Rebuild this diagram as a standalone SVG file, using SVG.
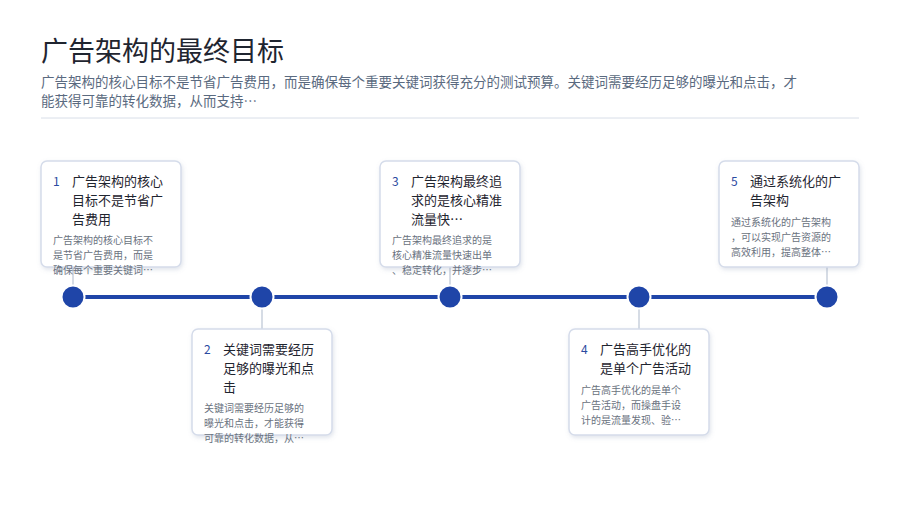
<svg xmlns="http://www.w3.org/2000/svg" width="900" height="506" viewBox="0 0 900 506">
<defs>
<filter id="sh" x="-10%" y="-10%" width="130%" height="130%"><feDropShadow dx="1" dy="2" stdDeviation="2" flood-color="#8090b0" flood-opacity="0.25"/></filter>
<style>
text{font-family:"Noto Sans CJK SC","Noto Sans",sans-serif}
.card{fill:#fff;stroke:#d5dcea;stroke-width:1.5;filter:url(#sh)}
.num{font-size:12px;fill:#2a4aa0}
.tt{font-size:13px;fill:#1f2530}
.ds{font-size:10px;fill:#6a7280}
.dot{fill:#1f45a8}
.stem{stroke:#c9d0dc;stroke-width:1.5}
</style>
</defs>
<rect width="900" height="506" fill="#fff"/>
<text x="41" y="61" font-size="27" fill="#1f2530">广告架构的最终目标</text>
<text x="41" y="87" font-size="13.5" fill="#5a6a80">广告架构的核心目标不是节省广告费用，而是确保每个重要关键词获得充分的测试预算。关键词需要经历足够的曝光和点击，才</text>
<text x="41" y="106" font-size="13.5" fill="#5a6a80">能获得可靠的转化数据，从而支持…</text>
<line x1="41" y1="118" x2="859" y2="118" stroke="#d8dee8" stroke-width="1"/>
<g id="connectors">
<line x1="73" y1="297" x2="827" y2="297" stroke="#1f45a8" stroke-width="4"/>
<line class="stem" x1="73" y1="267" x2="73" y2="286"/>
<line class="stem" x1="262" y1="308" x2="262" y2="329"/>
<line class="stem" x1="450" y1="267" x2="450" y2="286"/>
<line class="stem" x1="639" y1="308" x2="639" y2="329"/>
<line class="stem" x1="827" y1="267" x2="827" y2="286"/>
</g>
<g id="dots">
<circle class="dot" cx="73" cy="297" r="11.5" stroke="#fff" stroke-width="2"/>
<circle class="dot" cx="262" cy="297" r="11.5" stroke="#fff" stroke-width="2"/>
<circle class="dot" cx="450" cy="297" r="11.5" stroke="#fff" stroke-width="2"/>
<circle class="dot" cx="639" cy="297" r="11.5" stroke="#fff" stroke-width="2"/>
<circle class="dot" cx="827" cy="297" r="11.5" stroke="#fff" stroke-width="2"/>
</g>
<g id="node1">
<rect class="card" x="41" y="161" width="140" height="106" rx="6"/>
<text class="num" x="53" y="186">1</text>
<text class="tt" x="72" y="186">广告架构的核心</text><text class="tt" x="72" y="205">目标不是节省广</text><text class="tt" x="72" y="224">告费用</text>
<text class="ds" x="53" y="244">广告架构的核心目标不</text><text class="ds" x="53" y="259">是节省广告费用，而是</text><text class="ds" x="53" y="274">确保每个重要关键词…</text>
</g>
<g id="node2">
<rect class="card" x="192" y="329" width="140" height="106" rx="6"/>
<text class="num" x="204" y="354">2</text>
<text class="tt" x="223" y="354">关键词需要经历</text><text class="tt" x="223" y="373">足够的曝光和点</text><text class="tt" x="223" y="392">击</text>
<text class="ds" x="204" y="412">关键词需要经历足够的</text><text class="ds" x="204" y="427">曝光和点击，才能获得</text><text class="ds" x="204" y="442">可靠的转化数据，从…</text>
</g>
<g id="node3">
<rect class="card" x="380" y="161" width="140" height="106" rx="6"/>
<text class="num" x="392" y="186">3</text>
<text class="tt" x="411" y="186">广告架构最终追</text><text class="tt" x="411" y="205">求的是核心精准</text><text class="tt" x="411" y="224">流量快…</text>
<text class="ds" x="392" y="244">广告架构最终追求的是</text><text class="ds" x="392" y="259">核心精准流量快速出单</text><text class="ds" x="392" y="274">、稳定转化，并逐步…</text>
</g>
<g id="node4">
<rect class="card" x="569" y="329" width="140" height="106" rx="6"/>
<text class="num" x="581" y="354">4</text>
<text class="tt" x="600" y="354">广告高手优化的</text><text class="tt" x="600" y="373">是单个广告活动</text>
<text class="ds" x="581" y="394">广告高手优化的是单个</text><text class="ds" x="581" y="409">广告活动，而操盘手设</text><text class="ds" x="581" y="424">计的是流量发现、验…</text>
</g>
<g id="node5">
<rect class="card" x="719" y="161" width="140" height="106" rx="6"/>
<text class="num" x="731" y="186">5</text>
<text class="tt" x="750" y="186">通过系统化的广</text><text class="tt" x="750" y="205">告架构</text>
<text class="ds" x="731" y="226">通过系统化的广告架构</text><text class="ds" x="731" y="241">，可以实现广告资源的</text><text class="ds" x="731" y="256">高效利用，提高整体…</text>
</g>
</svg>
